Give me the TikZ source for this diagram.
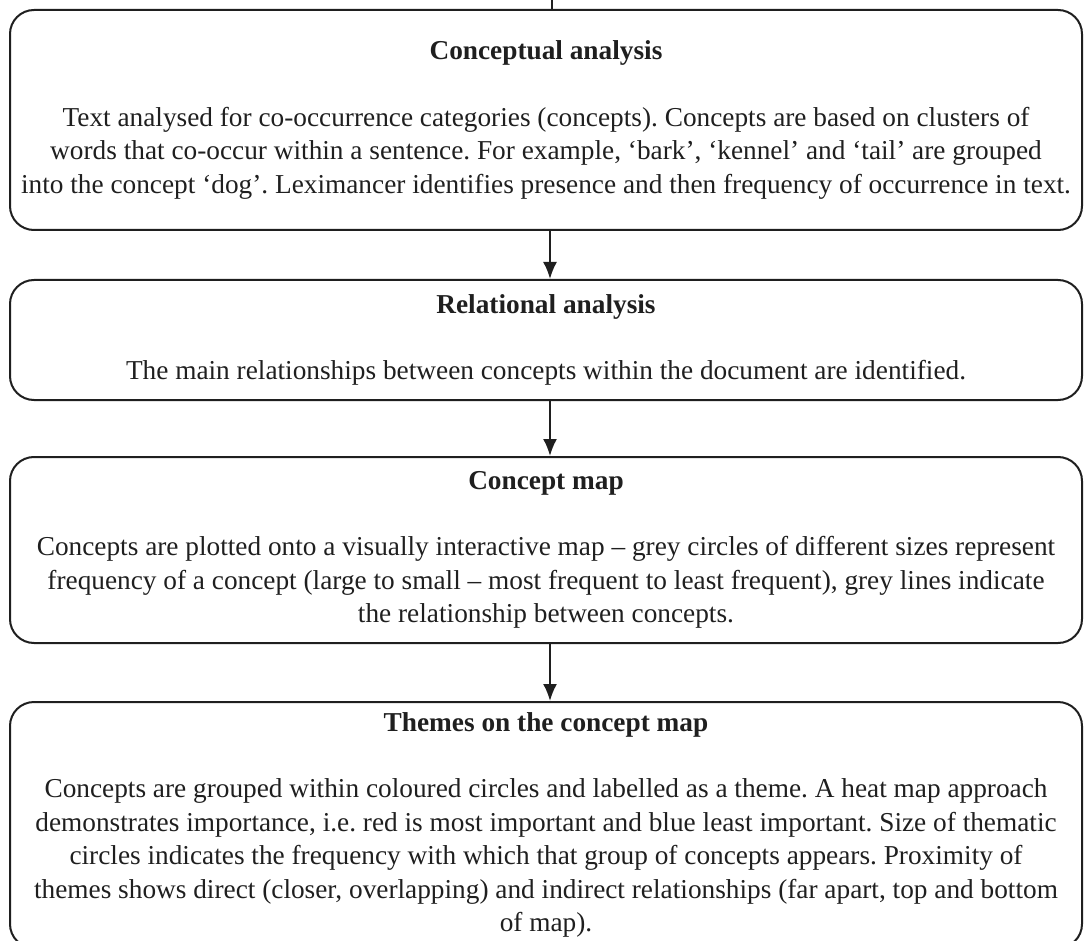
\documentclass[tikz,border=0pt]{standalone}
\usepackage{fontspec}
\setmainfont{Liberation Serif}
\usetikzlibrary{arrows.meta}
\tikzset{
  stagebox/.style={draw=black!88, line width=2pt, rounded corners=24pt, rectangle,
    minimum width=1072pt, inner sep=0pt, align=center, text=black!88,
    font=\fontsize{27.3}{33.5}\selectfont},
  flowarrow/.style={draw=black!88, line width=2pt, -{Latex[length=17pt,width=14pt]}}
}
\begin{document}
\frenchspacing
\begin{tikzpicture}[x=1pt,y=-1pt]
\useasboundingbox (0,0) rectangle (1084,941);
\clip (0,0) rectangle (1084,941);
\node[stagebox, minimum height=220pt] (b1) at (546,120) {\textbf{Conceptual analysis}\\[33pt]
Text analysed for co-occurrence categories (concepts). Concepts are based on clusters of\\
words that co-occur within a sentence. For example, ‘bark’, ‘kennel’ and ‘tail’ are grouped\\
into the concept ‘dog’. Leximancer identifies presence and then frequency of occurrence in text.};
\node[stagebox, minimum height=120pt] (b2) at (546,340) {\textbf{Relational analysis}\\[33pt]
The main relationships between concepts within the document are identified.};
\node[stagebox, minimum height=186pt] (b3) at (546,550) {\textbf{Concept map}\\[33pt]
Concepts are plotted onto a visually interactive map – grey circles of different sizes represent\\
frequency of a concept (large to small – most frequent to least frequent), grey lines indicate\\
the relationship between concepts.};
\node[stagebox, minimum height=246pt] (b4) at (546,825) {\textbf{Themes on the concept map}\\[33pt]
Concepts are grouped within coloured circles and labelled as a theme. A heat map approach\\
demonstrates importance, i.e. red is most important and blue least important. Size of thematic\\
circles indicates the frequency with which that group of concepts appears. Proximity of\\
themes shows direct (closer, overlapping) and indirect relationships (far apart, top and bottom\\
of map).};
\coordinate (top) at (552,-10);
\draw[draw=black!88, line width=2pt] (top) -- (top |- b1.north);
\draw[flowarrow] ([xshift=4pt]b1.south) -- ([xshift=4pt]b2.north);
\draw[flowarrow] ([xshift=4pt]b2.south) -- ([xshift=4pt]b3.north);
\draw[flowarrow] ([xshift=4pt]b3.south) -- ([xshift=4pt]b4.north);
\end{tikzpicture}
\end{document}
